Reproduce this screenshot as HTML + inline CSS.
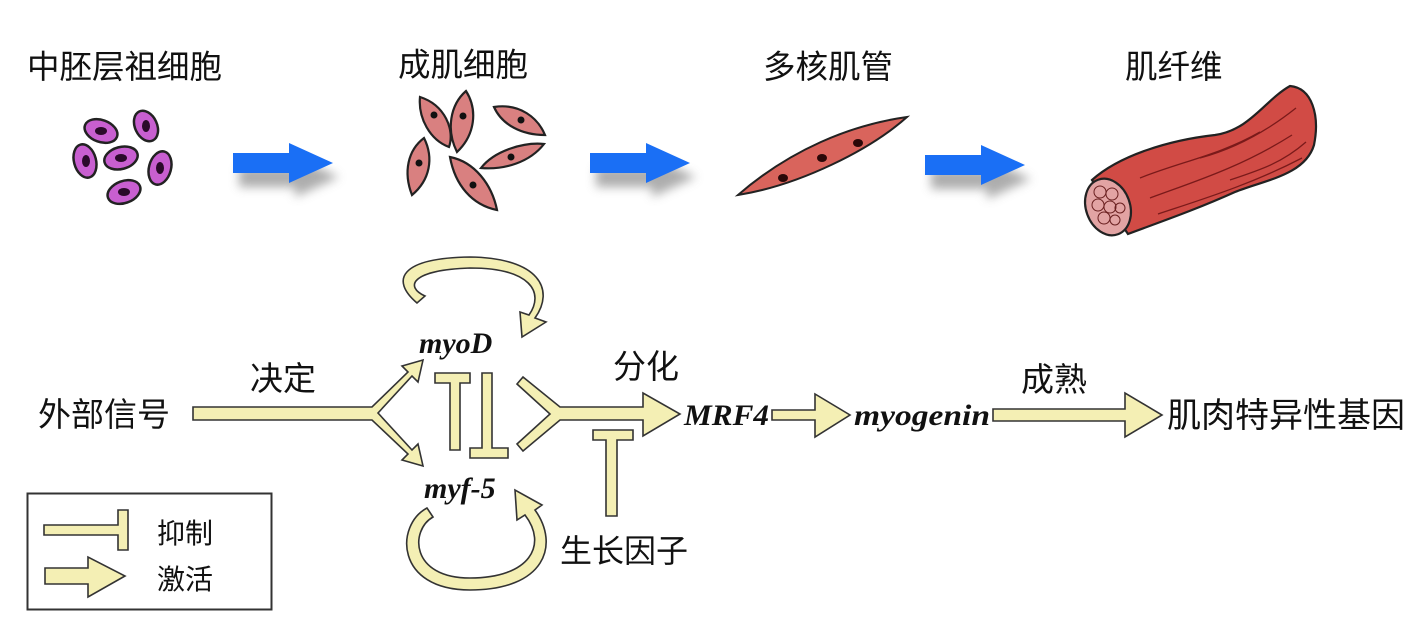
<!DOCTYPE html>
<html><head><meta charset="utf-8"><style>
html,body{margin:0;padding:0;background:#fff;}
svg{display:block;}
.cj{font-family:"Liberation Sans","Noto Sans CJK SC",sans-serif;fill:#111;}
.it{font-family:"Liberation Serif",serif;font-style:italic;font-weight:bold;fill:#111;}
.y{fill:#f4efb4;stroke:#333;stroke-width:1.6;stroke-linejoin:miter;}
</style></head><body>
<svg width="1426" height="629" viewBox="0 0 1426 629" xmlns="http://www.w3.org/2000/svg">
<defs>
<filter id="sh" x="-30%" y="-30%" width="160%" height="190%"><feGaussianBlur stdDeviation="5"/></filter>
<g id="barrow">
<path d="M0,-10 H56 V-20 L100,0 L56,20 V10 H0 Z" fill="#999" transform="translate(6,14)" filter="url(#sh)" opacity="0.8"/>
<path d="M0,-10 H56 V-20 L100,0 L56,20 V10 H0 Z" fill="#1a6ff5"/>
</g>
</defs>
<!-- titles -->
<g class="cj" font-size="32.5">
<text x="27" y="78">中胚层祖细胞</text>
<text x="398" y="76">成肌细胞</text>
<text x="763" y="78">多核肌管</text>
<text x="1125" y="78">肌纤维</text>
</g>
<!-- blue arrows -->
<use href="#barrow" x="233" y="163"/>
<use href="#barrow" x="590" y="163"/>
<use href="#barrow" x="925" y="165"/>
<!-- progenitor cells -->
<g stroke="#222" stroke-width="2.5" fill="#c85fd0">
<ellipse cx="101" cy="131" rx="17" ry="11" transform="rotate(20 101 131)"/>
<ellipse cx="146" cy="126" rx="16" ry="11" transform="rotate(65 146 126)"/>
<ellipse cx="85" cy="161" rx="17" ry="11" transform="rotate(75 85 161)"/>
<ellipse cx="121" cy="158" rx="17" ry="11" transform="rotate(-15 121 158)"/>
<ellipse cx="160" cy="168" rx="17" ry="11" transform="rotate(-75 160 168)"/>
<ellipse cx="124" cy="192" rx="17" ry="11" transform="rotate(-20 124 192)"/>
</g>
<g fill="#2a0a2a">
<ellipse cx="101" cy="131" rx="6" ry="4"/><ellipse cx="146" cy="126" rx="4" ry="6"/>
<ellipse cx="86" cy="161" rx="4" ry="6"/><ellipse cx="121" cy="158" rx="6" ry="4"/>
<ellipse cx="160" cy="168" rx="4" ry="6"/><ellipse cx="124" cy="192" rx="6" ry="4"/>
</g>
<!-- myoblasts -->
<g stroke="#222" stroke-width="2.2" fill="#d98080">
<path d="M420,97 C445,105 455,130 449,147 C430,140 418,118 420,97 Z"/>
<path d="M466,91 C450,105 446,130 457,152 C475,135 478,110 466,91 Z"/>
<path d="M494,107 C520,103 538,118 545,135 C522,135 502,125 494,107 Z"/>
<path d="M424,138 C408,150 403,172 412,195 C430,180 434,158 424,138 Z"/>
<path d="M481,168 C495,150 525,142 544,144 C530,162 505,170 481,168 Z"/>
<path d="M450,157 C475,162 492,185 497,210 C472,205 455,185 450,157 Z"/>
</g>
<g fill="#111">
<circle cx="434" cy="115" r="3.5"/><circle cx="463" cy="116" r="3.5"/><circle cx="521" cy="120" r="3.5"/>
<circle cx="419" cy="163" r="3.5"/><circle cx="511" cy="157" r="3.5"/><circle cx="473" cy="185" r="3.5"/>
</g>
<!-- myotube -->
<path d="M738,195 C790,150 850,125 907,117 C870,150 800,185 738,195 Z" fill="#d9645c" stroke="#222" stroke-width="2"/>
<g fill="#2a0808"><ellipse cx="783" cy="178" rx="5" ry="4"/><ellipse cx="822" cy="158" rx="5" ry="4"/><ellipse cx="858" cy="143" rx="5" ry="4"/></g>
<!-- muscle fiber -->
<path d="M1092,180 C1120,155 1170,140 1215,135 C1250,130 1265,100 1290,86 C1312,88 1320,115 1314,145 C1305,175 1265,180 1235,192 C1195,210 1160,222 1128,234 Z" fill="#d14b45" stroke="#222" stroke-width="2.2"/>
<g stroke="#7a1a1a" stroke-width="1.3" fill="none">
<path d="M1140,178 C1180,162 1220,155 1260,132"/>
<path d="M1150,198 C1190,183 1240,168 1292,135"/>
<path d="M1158,214 C1200,200 1250,185 1302,158"/>
<path d="M1200,158 C1230,150 1262,135 1296,108"/>
<path d="M1230,180 C1260,170 1282,163 1306,142"/>
</g>
<ellipse cx="1108" cy="207" rx="22" ry="29" transform="rotate(-20 1108 207)" fill="#e2a3a3" stroke="#222" stroke-width="2.2"/>
<g fill="none" stroke="#6a2020" stroke-width="1">
<circle cx="1100" cy="192" r="6"/><circle cx="1112" cy="194" r="6"/><circle cx="1098" cy="205" r="6"/><circle cx="1110" cy="207" r="6"/><circle cx="1120" cy="208" r="5"/><circle cx="1104" cy="218" r="6"/><circle cx="1115" cy="220" r="5"/>
</g>
<!-- bottom pathway -->
<g class="y">
<path d="M193,407 H372 L408,372 L402,366 L423,360 L418,382 L412,376 L378,413 L412,450 L418,444 L423,466 L402,460 L408,454 L372,420 H193 Z"/>
<path d="M417,303 C390,280 400,258 470,257 C540,258 555,290 535,318 L546,322 L522,337 L520,312 L529,315 C545,292 530,268 470,268 C410,270 405,287 425,296 Z"/>
<path d="M427,508 C395,525 395,590 470,590 C545,590 560,545 535,510 L542,505 L515,490 L517,520 L525,515 C548,545 530,578 470,578 C410,578 410,530 433,517 Z"/>
<path d="M435,373 H470 V383 H460 V450 H450 V383 H435 Z"/>
<path d="M482,373 H492 V448 H508 V458 H470 V448 H482 Z"/>
<path d="M517,384 L523,377 L560,407 H643 V393 L680,414 L643,436 V420 H560 L523,451 L517,444 L550,414 Z"/>
<path d="M593,430 H633 V440 H617 V516 H606 V440 H593 Z"/>
<path d="M772,410 H815 V394 L850,415 L815,437 V420 H772 Z"/>
<path d="M993,409 H1125 V393 L1162,415 L1125,437 V421 H993 Z"/>
</g>
<g class="cj" font-size="33">
<text x="38" y="426">外部信号</text>
<text x="250" y="390">决定</text>
<text x="613" y="378">分化</text>
<text x="1021" y="391">成熟</text>
<text x="1167" y="427" font-size="34">肌肉特异性基因</text>
<text x="560" y="562" font-size="32">生长因子</text>
</g>
<g class="it" font-size="30">
<text x="419" y="353">myoD</text>
<text x="424" y="498">myf-5</text>
<text x="684" y="425" textLength="85" lengthAdjust="spacingAndGlyphs">MRF4</text>
<text x="854" y="425" textLength="136" lengthAdjust="spacingAndGlyphs">myogenin</text>
</g>
<!-- legend -->
<rect x="27.5" y="493.5" width="244" height="116" fill="#fff" stroke="#333" stroke-width="2"/>
<g class="y">
<path d="M44,525 H118 V510 H128 V550 H118 V535 H44 Z"/>
<path d="M45,568 H88 V557 L125,576 L88,597 V584 H45 Z"/>
</g>
<g class="cj" font-size="28">
<text x="157" y="543">抑制</text>
<text x="157" y="589">激活</text>
</g>
</svg>
</body></html>
